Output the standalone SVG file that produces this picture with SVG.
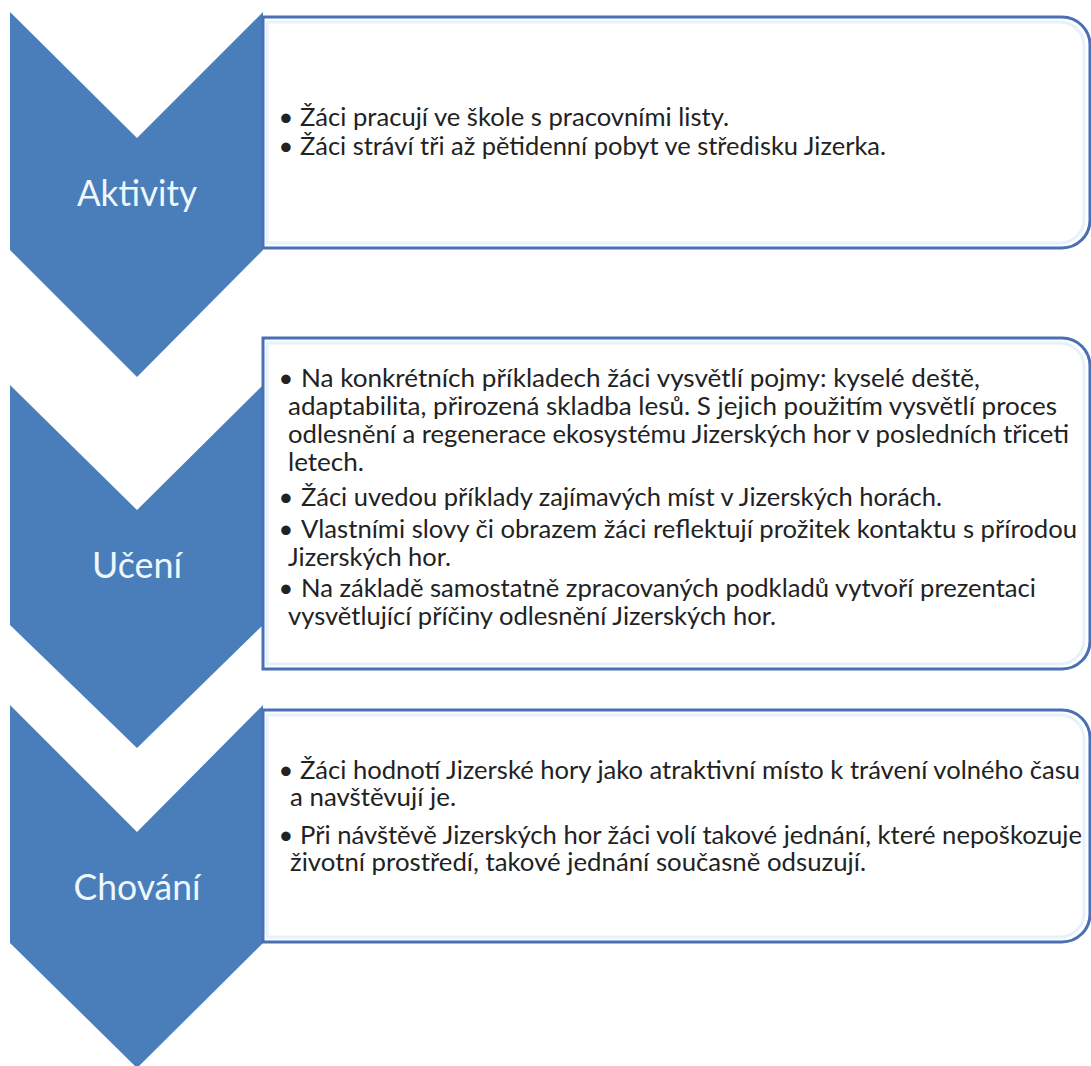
<svg xmlns="http://www.w3.org/2000/svg" width="1091" height="1066" viewBox="0 0 1091 1066">
<style>
.chev{fill:#4a7ebb}
.box{fill:#fff;stroke:#4a6fb3;stroke-width:3}
.glow{fill:none;stroke:#dcedf9;stroke-width:3;opacity:.7}
.lbl{font-family:Lato,"Liberation Sans",sans-serif;font-size:36px;fill:#eef8fc;text-anchor:middle}
.t{font-family:Lato,"Liberation Sans",sans-serif;font-size:25.5px;fill:#222}
.b{font-family:Lato,"Liberation Sans",sans-serif;font-size:25.5px;fill:#222;text-anchor:middle}
</style>
<rect width="1091" height="1066" fill="#fff"/>
<g id="connectors"/>
<g id="step-aktivity">
<polygon class="chev" points="10,12 137,138 263,12 263,250 137,377 10,250"/>
<text class="lbl" x="137" y="206" textLength="120" lengthAdjust="spacingAndGlyphs">Aktivity</text>
</g>
<g id="step-uceni">
<polygon class="chev" points="10,385 137,510 263,385 263,625 137,748 10,625"/>
<text class="lbl" x="137" y="578" textLength="90" lengthAdjust="spacingAndGlyphs">Učení</text>
</g>
<g id="step-chovani">
<polygon class="chev" points="10,705 137,832 263,705 263,943 137,1068 10,943"/>
<text class="lbl" x="137" y="900" textLength="127" lengthAdjust="spacingAndGlyphs">Chování</text>
</g>
<g id="box-aktivity">
<path class="box" d="M263,17 H1062 A28,28 0 0 1 1090,45 V220 A28,28 0 0 1 1062,248 H263 Z"/>
<path class="glow" d="M267,22 H1060 A24,24 0 0 1 1084,46 V219 A24,24 0 0 1 1060,243 H267 Z"/>
<text class="b" x="286" y="126">•</text>
<text class="t" x="300" y="126" textLength="429" lengthAdjust="spacingAndGlyphs">Žáci pracují ve škole s pracovními listy.</text>
<text class="b" x="286" y="155">•</text>
<text class="t" x="300" y="155" textLength="586" lengthAdjust="spacingAndGlyphs">Žáci stráví tři až pětidenní pobyt ve středisku Jizerka.</text>
</g>
<g id="box-uceni">
<path class="box" d="M263,338 H1062 A28,28 0 0 1 1090,366 V641 A28,28 0 0 1 1062,669 H263 Z"/>
<path class="glow" d="M267,343 H1060 A24,24 0 0 1 1084,367 V640 A24,24 0 0 1 1060,664 H267 Z"/>
<text class="b" x="286" y="387">•</text>
<text class="t" x="301" y="387" textLength="679" lengthAdjust="spacingAndGlyphs">Na konkrétních příkladech žáci vysvětlí pojmy: kyselé deště,</text>
<text class="t" x="288" y="415" textLength="769" lengthAdjust="spacingAndGlyphs">adaptabilita, přirozená skladba lesů. S jejich použitím vysvětlí proces</text>
<text class="t" x="288" y="443" textLength="781" lengthAdjust="spacingAndGlyphs">odlesnění a regenerace ekosystému Jizerských hor v posledních třiceti</text>
<text class="t" x="288" y="471" textLength="76" lengthAdjust="spacingAndGlyphs">letech.</text>
<text class="b" x="286" y="506">•</text>
<text class="t" x="301" y="506" textLength="641" lengthAdjust="spacingAndGlyphs">Žáci uvedou příklady zajímavých míst v Jizerských horách.</text>
<text class="b" x="286" y="538">•</text>
<text class="t" x="301" y="538" textLength="776" lengthAdjust="spacingAndGlyphs">Vlastními slovy či obrazem žáci reflektují prožitek kontaktu s přírodou</text>
<text class="t" x="288" y="566" textLength="163" lengthAdjust="spacingAndGlyphs">Jizerských hor.</text>
<text class="b" x="286" y="597">•</text>
<text class="t" x="301" y="597" textLength="735" lengthAdjust="spacingAndGlyphs">Na základě samostatně zpracovaných podkladů vytvoří prezentaci</text>
<text class="t" x="288" y="625" textLength="488" lengthAdjust="spacingAndGlyphs">vysvětlující příčiny odlesnění Jizerských hor.</text>
</g>
<g id="box-chovani">
<path class="box" d="M263,710 H1062 A28,28 0 0 1 1090,738 V914 A28,28 0 0 1 1062,942 H263 Z"/>
<path class="glow" d="M267,715 H1060 A24,24 0 0 1 1084,739 V913 A24,24 0 0 1 1060,937 H267 Z"/>
<text class="b" x="286" y="779">•</text>
<text class="t" x="300" y="779" textLength="780" lengthAdjust="spacingAndGlyphs">Žáci hodnotí Jizerské hory jako atraktivní místo k trávení volného času</text>
<text class="t" x="290" y="806" textLength="166" lengthAdjust="spacingAndGlyphs">a navštěvují je.</text>
<text class="b" x="286" y="844">•</text>
<text class="t" x="300" y="844" textLength="782" lengthAdjust="spacingAndGlyphs">Při návštěvě Jizerských hor žáci volí takové jednání, které nepoškozuje</text>
<text class="t" x="290" y="871" textLength="576" lengthAdjust="spacingAndGlyphs">životní prostředí, takové jednání současně odsuzují.</text>
</g>
</svg>
